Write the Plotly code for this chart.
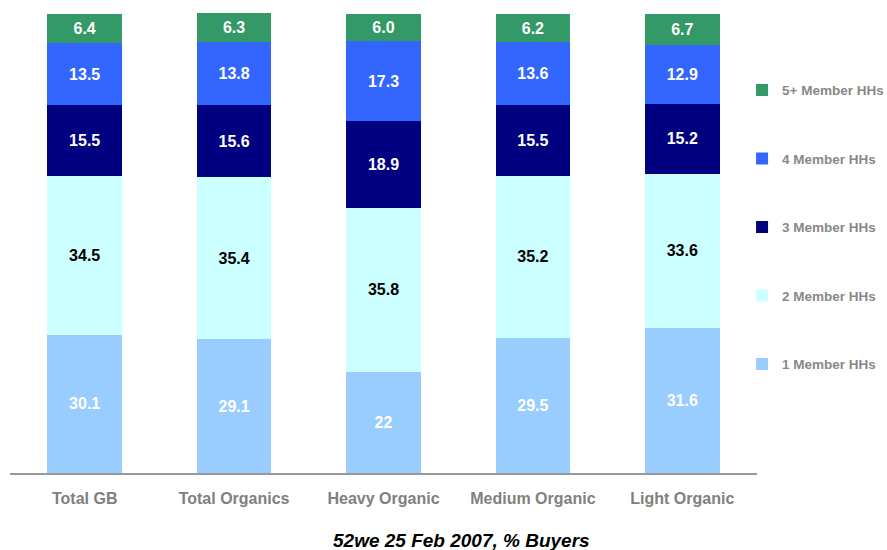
import plotly.graph_objects as go

categories = ["Total GB", "Total Organics", "Heavy Organic", "Medium Organic", "Light Organic"]
series_names = ["1 Member HHs", "2 Member HHs", "3 Member HHs", "4 Member HHs", "5+ Member HHs"]
one_member = [30.1, 29.1, 22, 29.5, 31.6]
two_member = [34.5, 35.4, 35.8, 35.2, 33.6]
three_member = [15.5, 15.6, 18.9, 15.5, 15.2]
four_member = [13.5, 13.8, 17.3, 13.6, 12.9]
five_plus_member = [6.4, 6.3, 6.0, 6.2, 6.7]
title_text = "52we 25 Feb 2007, % Buyers"

series_values = [one_member, two_member, three_member, four_member, five_plus_member]
colors = ["#99CCFF", "#CCFFFF", "#000080", "#3366FF", "#339966"]
label_colors = ["white", "black", "white", "white", "white"]

FONT = "Liberation Sans, Arial, sans-serif"

fig = go.Figure()
n = len(series_names)
for i, (name, vals, col, lc) in enumerate(zip(series_names, series_values, colors, label_colors)):
    fig.add_trace(go.Bar(
        x=categories, y=vals, name=name, legendgroup=name,
        legendrank=1000 + (n - i),
        marker=dict(color=col, line=dict(width=0)),
        text=[str(v) for v in vals],
        textposition="inside", insidetextanchor="middle", textangle=0,
        constraintext="none",
        textfont=dict(family=FONT, size=16, color=lc, weight="bold"),
    ))

fig.update_layout(
    barmode="stack", bargap=0.5,
    width=887, height=550,
    margin=dict(l=10, r=130, t=13, b=77, autoexpand=False),
    plot_bgcolor="white", paper_bgcolor="white",
    font=dict(family=FONT),
    showlegend=True,
    legend=dict(
        traceorder="grouped", tracegroupgap=48,
        x=0.98, xanchor="left", y=0.866, yanchor="top",
        font=dict(family=FONT, size=13.5, color="#888888", weight="bold"),
        bgcolor="rgba(0,0,0,0)",
    ),
    xaxis=dict(
        showline=True, linecolor="#999999", linewidth=2,
        showgrid=False, ticks="", ticklabelstandoff=10,
        tickfont=dict(family=FONT, size=16, color="#808080", weight="bold"),
    ),
    yaxis=dict(range=[0, 100.2], visible=False, showgrid=False, zeroline=False),
    annotations=[dict(
        text=title_text, xref="paper", yref="paper",
        x=0.605, y=-0.146, xanchor="center", yanchor="middle", showarrow=False,
        font=dict(family=FONT, size=19, color="black", weight="bold", style="italic"),
    )],
)

fig.write_html(
    "out.html",
    config={"displayModeBar": False},
    post_script="document.body.style.margin='0';document.body.style.overflow='hidden';",
)
